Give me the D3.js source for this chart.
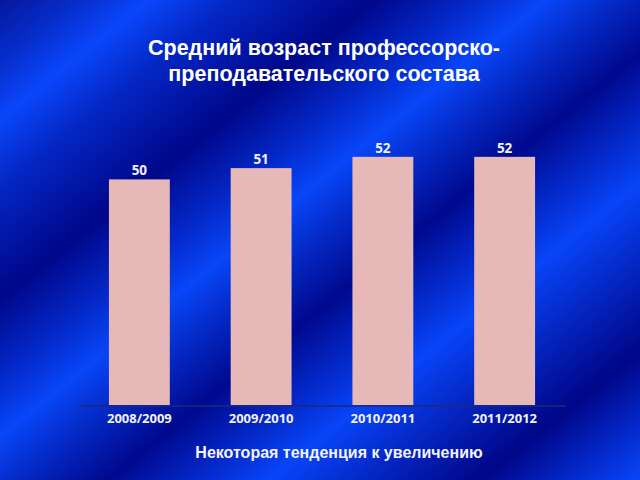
<!DOCTYPE html>
<html>
<head>
<meta charset="utf-8">
<script src="https://cdn.jsdelivr.net/npm/d3@7"></script>
<style>
  html, body { margin: 0; padding: 0; background: #0a2ad0; }
  svg { display: block; }
</style>
</head>
<body>
<svg id="chart" width="640" height="480"></svg>
<script>
// ---- data ----
const categories = ["2008/2009", "2009/2010", "2010/2011", "2011/2012"];
const values = [50, 51, 52, 52];
const titleLines = ["Средний возраст профессорско-", "преподавательского состава"];
const subtitle = "Некоторая тенденция к увеличению";
const yDomain = [30, 55];

// ---- setup ----
const svg = d3.select("#chart");
const W = 640, H = 480;

// background: diagonal blue wave stripes
const defs = svg.append("defs");
const bg = defs.append("linearGradient")
  .attr("id", "bg")
  .attr("gradientUnits", "userSpaceOnUse")
  .attr("x1", 0).attr("y1", 0)
  .attr("x2", 484).attr("y2", 605);
const stops = [
  [0.00, "#06179e"],
  [0.06, "#062cc8"],
  [0.12, "#0a46fa"],
  [0.19, "#0426c4"],
  [0.30, "#00078a"],
  [0.38, "#0428c8"],
  [0.44, "#0846f8"],
  [0.50, "#0428c4"],
  [0.57, "#00098e"],
  [0.64, "#0428c8"],
  [0.70, "#0844f8"],
  [0.78, "#0426c2"],
  [0.87, "#000688"],
  [0.94, "#0428c8"],
  [1.00, "#0846fa"]
];
bg.selectAll("stop").data(stops).join("stop")
  .attr("offset", d => d[0]).attr("stop-color", d => d[1]);
svg.append("rect").attr("width", W).attr("height", H).attr("fill", "url(#bg)");

// scales
const x = d3.scaleBand().domain(categories).range([78.5, 565.5])
  .paddingInner(0.5).paddingOuter(0.25);
const y = d3.scaleLinear().domain(yDomain).range([405, 123]);

// bars
svg.append("g").selectAll("rect").data(values).join("rect")
  .attr("x", (d, i) => x(categories[i]))
  .attr("y", d => y(d))
  .attr("width", x.bandwidth())
  .attr("height", d => y(yDomain[0]) - y(d))
  .attr("fill", "#e6b8b7");

// value labels
svg.append("g").selectAll("text").data(values).join("text")
  .attr("x", (d, i) => x(categories[i]) + x.bandwidth() / 2)
  .attr("y", d => y(d) - 4)
  .attr("text-anchor", "middle")
  .attr("font-family", "'Open Sans', sans-serif")
  .attr("font-weight", "bold")
  .attr("font-size", 13.5)
  .attr("fill", "#f2f2ff")
  .text(d => d);

// x axis
const xAxis = svg.append("g")
  .attr("transform", `translate(0,${y(yDomain[0]) + 0.5})`)
  .call(d3.axisBottom(x).tickSize(0).tickPadding(8));
xAxis.select(".domain").attr("stroke", "#1b2a78").attr("stroke-width", 1.5);
xAxis.selectAll(".tick text")
  .attr("font-family", "'Open Sans', sans-serif")
  .attr("font-weight", "bold")
  .attr("font-size", 13)
  .attr("fill", "#f2f2ff");

// title
svg.append("g").selectAll("text").data(titleLines).join("text")
  .attr("x", 324)
  .attr("y", (d, i) => 55 + i * 26)
  .attr("text-anchor", "middle")
  .attr("font-family", "'Liberation Sans', Arial, sans-serif")
  .attr("font-weight", "bold")
  .attr("font-size", 21.5)
  .attr("fill", "#ffffff")
  .text(d => d);

// subtitle
svg.append("text")
  .attr("x", 339)
  .attr("y", 458)
  .attr("text-anchor", "middle")
  .attr("font-family", "'Liberation Sans', Arial, sans-serif")
  .attr("font-weight", "bold")
  .attr("font-size", 16)
  .attr("fill", "#f4f4ff")
  .text(subtitle);
</script>
</body>
</html>
